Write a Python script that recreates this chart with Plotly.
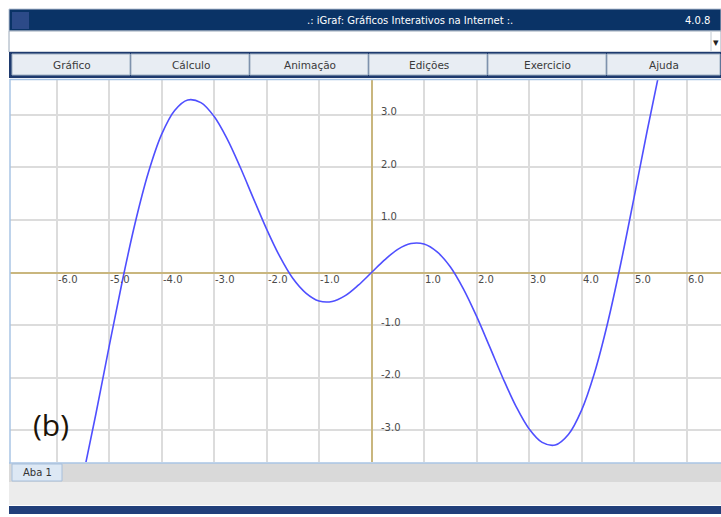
import plotly.graph_objects as go

# ---- data ----
x_vals = [-5.5, -5.25, -5.0, -4.75, -4.5, -4.25, -4.0, -3.75, -3.5, -3.25, -3.0, -2.75,
          -2.5, -2.25, -2.0, -1.75, -1.5, -1.25, -1.0, -0.75, -0.5, -0.25,
          0.0, 0.25, 0.5, 0.75, 1.0, 1.25, 1.5, 1.75, 2.0, 2.25, 2.5, 2.75,
          3.0, 3.25, 3.5, 3.75, 4.0, 4.25, 4.5, 4.75, 5.0, 5.25, 5.5]
y_vals = [-3.90, -2.69, -1.42, -0.18, 0.95, 1.90, 2.62, 3.08, 3.28, 3.23, 2.97, 2.54,
          2.00, 1.41, 0.83, 0.31, -0.11, -0.39, -0.54, -0.55, -0.44, -0.24,
          0.00, 0.24, 0.44, 0.55, 0.54, 0.39, 0.11, -0.31, -0.83, -1.41, -2.00, -2.54,
          -2.97, -3.23, -3.28, -3.08, -2.62, -1.90, -0.95, 0.18, 1.42, 2.69, 3.90]

x_ticks = [-6, -5, -4, -3, -2, -1, 1, 2, 3, 4, 5, 6]
x_tick_labels = ["-6.0", "-5.0", "-4.0", "-3.0", "-2.0", "-1.0", "1.0", "2.0", "3.0", "4.0", "5.0", "6.0"]
y_ticks = [-3, -2, -1, 1, 2, 3]
y_tick_labels = ["-3.0", "-2.0", "-1.0", "1.0", "2.0", "3.0"]

menu_items = ["Gráfico", "Cálculo", "Animação", "Edições", "Exercicio", "Ajuda"]
title_text = ".: iGraf: Gráficos Interativos na Internet :."
version_text = "4.0.8"
tab_text = "Aba 1"
panel_label = "(b)"

W, H = 721, 517
L, R, T, B = 10, 721, 79, 462


def px(x):
    return (x - L) / (R - L)


def py(y):
    return (B - y) / (B - T)


fig = go.Figure()
fig.add_trace(go.Scatter(x=x_vals, y=y_vals, mode="lines",
                         line=dict(color="#4f4fff", width=1.6, shape="spline"),
                         hoverinfo="skip", showlegend=False))

shapes = []
annotations = []


def rect(x0, y0, x1, y1, fill, line=None, lw=0):
    shapes.append(dict(type="rect", xref="paper", yref="paper",
                       x0=px(x0), x1=px(x1), y0=py(y1), y1=py(y0),
                       fillcolor=fill, line=dict(color=line or fill, width=lw),
                       layer="above"))


def hline(x0, x1, y, color, w=1):
    shapes.append(dict(type="line", xref="paper", yref="paper",
                       x0=px(x0), x1=px(x1), y0=py(y), y1=py(y),
                       line=dict(color=color, width=w), layer="above"))


def vline(x, y0, y1, color, w=1):
    shapes.append(dict(type="line", xref="paper", yref="paper",
                       x0=px(x), x1=px(x), y0=py(y0), y1=py(y1),
                       line=dict(color=color, width=w), layer="above"))


def text(x, y, s, size=11, color="#333", anchor="center", family="DejaVu Sans"):
    annotations.append(dict(xref="paper", yref="paper", x=px(x), y=py(y), text=s,
                            showarrow=False, xanchor=anchor, yanchor="middle",
                            font=dict(size=size, color=color, family=family)))


# title bar
rect(9, 9, 721, 31, "#0a3366", "#b8c4d4", 1)
rect(12, 12, 29, 29, "#2c4a88")
text(410, 20, title_text, size=10, color="#ffffff")
text(712, 20, version_text, size=10, color="#ffffff", anchor="right")
# input box
rect(9, 31, 721, 52, "#ffffff", "#9aa8b8", 1)
vline(711, 32, 51, "#c0c8d0", 1)
text(716, 42, "▾", size=11, color="#222")
# menu row
rect(9, 52, 721, 78, "#1e3a6e")
edges = [12, 131, 250, 369, 488, 607, 721]
for i, m in enumerate(menu_items):
    rect(edges[i], 54, edges[i + 1] - 1, 75, "#e8edf3", "#9fb0c2", 1)
    text((edges[i] + edges[i + 1]) / 2, 65, m, size=10.5, color="#3a3a3a")
# panel border
hline(10, 721, 79.5, "#a8c4e4", 1.5)
vline(10, 79, 463, "#a8c4e4", 1.5)
# bottom bars
rect(9, 463, 721, 482, "#d9d9d9")
hline(9, 721, 463, "#a8c4e4", 1.5)
rect(12, 464, 62, 481, "#dde8f4", "#a8c0dc", 1)
text(37, 472.5, tab_text, size=10, color="#333")
rect(9, 482, 721, 505, "#ececec")
rect(9, 506, 721, 514, "#213f7a")

# tick labels placed along the axes
for xv, lab in zip(x_ticks, x_tick_labels):
    annotations.append(dict(x=xv, y=0, xref="x", yref="y", text=lab, showarrow=False,
                            xanchor="left", yanchor="middle", xshift=-1, yshift=-7,
                            font=dict(size=10, color="#4a4a4a", family="DejaVu Sans")))
for yv, lab in zip(y_ticks, y_tick_labels):
    annotations.append(dict(x=0, y=yv, xref="x", yref="y", text=lab, showarrow=False,
                            xanchor="left", yanchor="middle", xshift=7, yshift=3,
                            font=dict(size=10, color="#4a4a4a", family="DejaVu Sans")))

# panel label
text(51, 424, panel_label, size=30, color="#1c1408", family="Open Sans")

x0 = 371.5
sx = 52.5
y0 = 272.5
sy = 52.6
fig.update_layout(
    width=W, height=H,
    margin=dict(l=L, r=W - R, t=T, b=H - B, pad=0),
    paper_bgcolor="#ffffff", plot_bgcolor="#ffffff",
    xaxis=dict(range=[(L - x0) / sx, (R - x0) / sx], dtick=1, tick0=0,
               showgrid=True, gridcolor="#dcdcdc", gridwidth=1.5,
               zeroline=True, zerolinecolor="#c9b67e", zerolinewidth=2,
               showticklabels=False, ticks="", fixedrange=True),
    yaxis=dict(range=[(y0 - B) / sy, (y0 - T) / sy], dtick=1, tick0=0,
               showgrid=True, gridcolor="#dcdcdc", gridwidth=1.5,
               zeroline=True, zerolinecolor="#c9b67e", zerolinewidth=2,
               showticklabels=False, ticks="", fixedrange=True),
    shapes=shapes, annotations=annotations, showlegend=False,
)

fig.write_html("out.html", config={"displayModeBar": False},
               post_script="document.body.style.margin='0';document.body.style.overflow='hidden';")
